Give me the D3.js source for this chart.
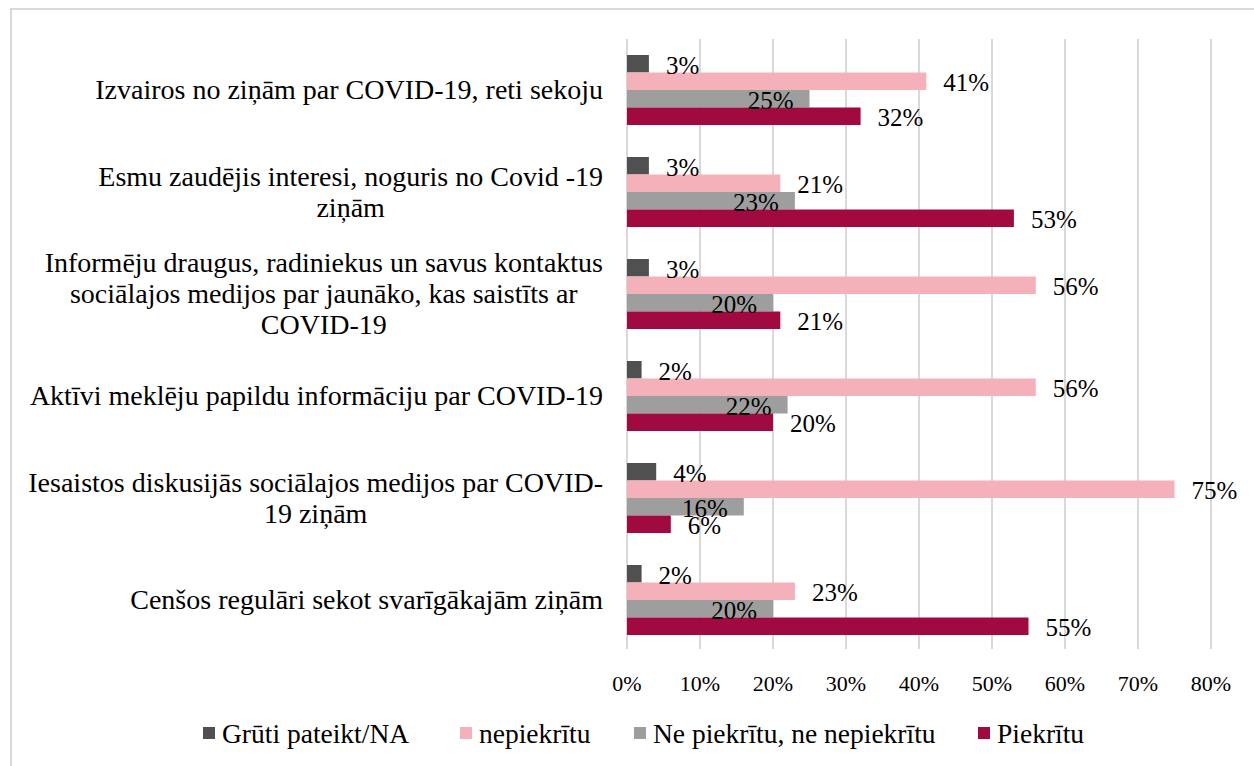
<!DOCTYPE html>
<html>
<head>
<meta charset="utf-8">
<script src="https://cdn.jsdelivr.net/npm/d3@7"></script>
<style>
  body { margin: 0; background: #fff; }
  svg text { font-family: "Liberation Serif", "Times New Roman", serif; fill: #000; }
</style>
</head>
<body>
<div id="chart"></div>
<script>
// Setup SVG
var svgWidth = 1254;
var svgHeight = 766;

// Data
var categories = [
    ["Izvairos no ziņām par COVID-19, reti sekoju"],
    ["Esmu zaudējis interesi, noguris no Covid -19", "ziņām"],
    ["Informēju draugus, radiniekus un savus kontaktus", "sociālajos medijos par jaunāko, kas saistīts ar", "COVID-19"],
    ["Aktīvi meklēju papildu informāciju par COVID-19"],
    ["Iesaistos diskusijās sociālajos medijos par COVID-", "19 ziņām"],
    ["Cenšos regulāri sekot svarīgākajām ziņām"]
];
var seriesNames = ["Grūti pateikt/NA", "nepiekrītu", "Ne piekrītu, ne nepiekrītu", "Piekrītu"];
var seriesColors = ["#505050", "#f5b1b9", "#9e9e9e", "#a10a40"];
var grutiValues = [3, 3, 3, 2, 4, 2];
var nepiekrituValues = [41, 21, 56, 56, 75, 23];
var neNeValues = [25, 23, 20, 22, 16, 20];
var piekrituValues = [32, 53, 21, 20, 6, 55];
var tickValues = [0, 10, 20, 30, 40, 50, 60, 70, 80];

var seriesValues = [grutiValues, nepiekrituValues, neNeValues, piekrituValues];

var svg = d3.select('#chart')
    .append('svg')
    .attr('width', svgWidth)
    .attr('height', svgHeight)
    .attr('font-family', '"Liberation Serif", "Times New Roman", serif');

// Outer border
svg.append('rect')
    .attr('x', 11)
    .attr('y', 9)
    .attr('width', svgWidth)
    .attr('height', svgHeight)
    .attr('fill', 'none')
    .attr('stroke', '#d9d9d9')
    .attr('stroke-width', 2);

// Scales
var xScale = d3.scaleLinear()
    .domain([0, 80])
    .range([627, 1211]);
var yScale = d3.scaleBand()
    .domain(d3.range(categories.length))
    .range([39, 651]);
var innerScale = d3.scaleBand()
    .domain(d3.range(seriesNames.length))
    .range([16, 86]);

// Gridlines
svg.append('g').selectAll('line')
    .data(tickValues)
    .enter()
    .append('line')
    .attr('x1', d => xScale(d))
    .attr('x2', d => xScale(d))
    .attr('y1', 39)
    .attr('y2', 649)
    .attr('stroke', '#d9d9d9')
    .attr('stroke-width', 2);

// Tick labels
svg.append('g').selectAll('text')
    .data(tickValues)
    .enter()
    .append('text')
    .attr('x', d => xScale(d))
    .attr('y', 683)
    .attr('dy', '0.35em')
    .attr('text-anchor', 'middle')
    .attr('font-size', 22)
    .text(d => d + '%');

// Category labels (lines centred, block right edge at 603)
var catGroup = svg.append('g');
categories.forEach(function(lines, i) {
    var lineHeight = 31;
    var cy = yScale(i) + yScale.bandwidth() / 2;
    var top = cy - (lines.length - 1) * lineHeight / 2;
    var texts = catGroup.append('g').selectAll('text')
        .data(lines)
        .enter()
        .append('text')
        .attr('y', (d, j) => top + j * lineHeight)
        .attr('dy', '0.33em')
        .attr('font-size', 28)
        .attr('text-anchor', 'middle')
        .text(d => d);
    var maxW = d3.max(texts.nodes(), n => n.getComputedTextLength());
    texts.attr('x', 603 - maxW / 2);
});

// Bars
var barsGroup = svg.append('g');
seriesValues.forEach(function(values, s) {
    barsGroup.append('g').selectAll('rect')
        .data(values)
        .enter()
        .append('rect')
        .attr('x', xScale(0))
        .attr('y', (d, i) => yScale(i) + innerScale(s))
        .attr('width', d => xScale(d) - xScale(0))
        .attr('height', innerScale.bandwidth())
        .attr('fill', seriesColors[s]);
});

// Data labels (gray series sits inside the bar end, others outside)
seriesValues.forEach(function(values, s) {
    barsGroup.append('g').selectAll('text')
        .data(values)
        .enter()
        .append('text')
        .attr('x', d => s === 2 ? xScale(d) - 16 : xScale(d) + 17)
        .attr('y', (d, i) => yScale(i) + innerScale(s) + innerScale.bandwidth() / 2 + 1)
        .attr('dy', '0.35em')
        .attr('text-anchor', s === 2 ? 'end' : 'start')
        .attr('font-size', 25)
        .text(d => d + '%');
});

// Legend
var legendX = [203, 460, 634, 978];
var legend = svg.append('g');
seriesNames.forEach(function(name, s) {
    legend.append('rect')
        .attr('x', legendX[s])
        .attr('y', 727)
        .attr('width', 12)
        .attr('height', 12)
        .attr('fill', seriesColors[s]);
    legend.append('text')
        .attr('x', legendX[s] + 19)
        .attr('y', 733)
        .attr('dy', '0.35em')
        .attr('font-size', 27.5)
        .text(name);
});
</script>
</body>
</html>
